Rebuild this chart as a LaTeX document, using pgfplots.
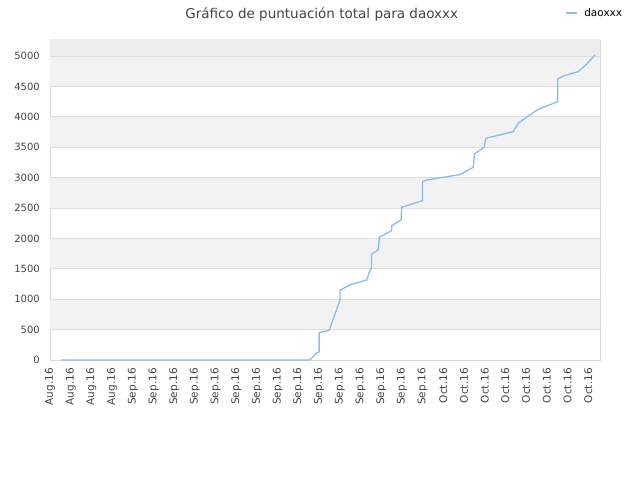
\documentclass[border=0pt]{standalone}
\usepackage{fontspec}
\setmainfont{DejaVu Sans}
\usepackage{pgfplots}
\pgfplotsset{compat=1.18}

\definecolor{serie}{HTML}{88BBEE}
\definecolor{bandgray}{HTML}{F2F2F2}
\definecolor{topgray}{HTML}{EDEDED}
\definecolor{gridgray}{HTML}{DDDDDD}
\definecolor{framegray}{HTML}{D8D8D8}
\definecolor{txtgray}{HTML}{444444}

\begin{document}
\begin{tikzpicture}
\useasboundingbox (-50pt,-120pt) rectangle (590pt,360pt);
\begin{axis}[
  at={(0pt,0pt)}, anchor=south west,
  scale only axis, width=550pt, height=320pt,
  xmin=0, xmax=26.57, ymin=0, ymax=5263,
  axis line style={framegray, line width=0.8pt},
  major tick length=0pt,
  ytick={0,500,...,5000},
  xtick={0,...,26},
  xticklabels={Aug.16,Aug.16,Aug.16,Aug.16,
    Sep.16,Sep.16,Sep.16,Sep.16,Sep.16,Sep.16,Sep.16,Sep.16,
    Sep.16,Sep.16,Sep.16,Sep.16,Sep.16,Sep.16,Sep.16,
    Oct.16,Oct.16,Oct.16,Oct.16,Oct.16,Oct.16,Oct.16,Oct.16},
  xticklabel style={rotate=90, anchor=east, font=\fontsize{10.5}{12}\selectfont, text=txtgray},
  yticklabel style={font=\fontsize{10}{12}\selectfont, text=txtgray},
  /pgf/number format/assume math mode=true,
  /pgf/number format/1000 sep={},
  tick label style={inner sep=0pt},
  xticklabel shift=8pt,
  yticklabel shift=10pt,
  title={Gráfico de puntuación total para daoxxx},
  title style={at={(0.494,1.062)}, anchor=center, font=\fontsize{13.5}{15}\selectfont, text=txtgray},
  legend style={draw=none, fill=none, at={(0.936,1.084)}, anchor=west,
    inner sep=0pt, column sep=5pt, font=\fontsize{10.5}{12}\selectfont},
  legend image code/.code={\draw[#1] (0pt,0pt) -- (11pt,0pt);},
]
% alternating bands
\fill[bandgray] (axis cs:-1,500) rectangle (axis cs:30,1000);
\fill[bandgray] (axis cs:-1,1500) rectangle (axis cs:30,2000);
\fill[bandgray] (axis cs:-1,2500) rectangle (axis cs:30,3000);
\fill[bandgray] (axis cs:-1,3500) rectangle (axis cs:30,4000);
\fill[bandgray] (axis cs:-1,4500) rectangle (axis cs:30,5000);
\fill[topgray] (axis cs:-1,5000) rectangle (axis cs:30,5300);
% grid lines
\draw[gridgray, line width=0.8pt] (axis cs:-1,500) -- (axis cs:30,500);
\draw[gridgray, line width=0.8pt] (axis cs:-1,1000) -- (axis cs:30,1000);
\draw[gridgray, line width=0.8pt] (axis cs:-1,1500) -- (axis cs:30,1500);
\draw[gridgray, line width=0.8pt] (axis cs:-1,2000) -- (axis cs:30,2000);
\draw[gridgray, line width=0.8pt] (axis cs:-1,2500) -- (axis cs:30,2500);
\draw[gridgray, line width=0.8pt] (axis cs:-1,3000) -- (axis cs:30,3000);
\draw[gridgray, line width=0.8pt] (axis cs:-1,3500) -- (axis cs:30,3500);
\draw[gridgray, line width=0.8pt] (axis cs:-1,4000) -- (axis cs:30,4000);
\draw[gridgray, line width=0.8pt] (axis cs:-1,4500) -- (axis cs:30,4500);
\draw[gridgray, line width=0.8pt] (axis cs:-1,5000) -- (axis cs:30,5000);
\addplot[serie, line width=1.3pt, line join=round] coordinates {
  (0.54,0) (12.56,0) (12.88,120) (13.00,130) (13.00,449)
  (13.44,482) (13.49,493) (14.01,987) (14.01,1151) (14.57,1245)
  (15.30,1316) (15.46,1480) (15.53,1508) (15.53,1739) (15.86,1810)
  (15.91,2018) (16.51,2127) (16.51,2210) (16.96,2303) (16.99,2512)
  (17.99,2620) (18.00,2933) (18.20,2961) (19.81,3050) (20.13,3110)
  (20.45,3170) (20.50,3389) (20.97,3499) (21.06,3647) (22.38,3756)
  (22.62,3894) (23.11,4014) (23.59,4124) (24.53,4250) (24.53,4618)
  (24.80,4672) (25.52,4743) (25.93,4869) (26.33,5017)
};
\addlegendentry{daoxxx}
\end{axis}
\end{tikzpicture}
\end{document}
